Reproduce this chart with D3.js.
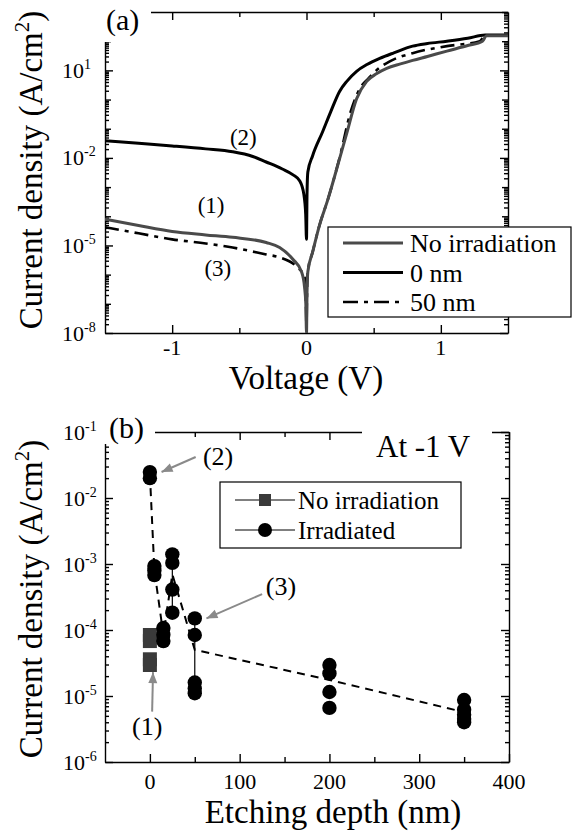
<!DOCTYPE html>
<html><head><meta charset="utf-8">
<script src="https://cdn.jsdelivr.net/npm/d3@7"></script>
<style>
body{margin:0;background:#fff}
svg{display:block}
svg text{font-family:"Liberation Serif","Times New Roman",Times,serif;fill:#000}
</style>
</head><body>
<svg id="c" width="572" height="834" font-family="Liberation Serif"></svg>
<script>
// ---------------- Panel (a) data : J-V curves ----------------
const vNoIrr = [-1.5,-1.25,-1.0,-0.75,-0.55,-0.3,-0.2,-0.1,-0.037,-0.015,-0.005,0,0.004,0.01,0.045,0.097,0.157,0.246,0.3,0.373,0.448,0.52,0.597,0.7,0.79,0.9,1.045,1.2,1.31,1.34,1.5];
const jNoIrr = [7.9e-5,4.8e-5,3.0e-5,2.3e-5,1.9e-5,1.26e-5,8.5e-6,3.3e-6,1.26e-6,3.9e-7,1e-7,1e-8,2.5e-7,1.26e-6,5.8e-6,5.0e-5,3.5e-4,9.3e-3,0.071,1.07,4.2,7.6,11.7,16.6,21.9,30,45.7,70.8,100,155,155];

const v0nm = [-1.5,-1.25,-1.0,-0.75,-0.55,-0.4,-0.3,-0.18,-0.1,-0.05,-0.02,-0.006,0,0.004,0.01,0.045,0.12,0.18,0.246,0.3,0.373,0.45,0.545,0.65,0.79,0.9,1.045,1.2,1.33,1.5];
const j0nm = [0.0389,0.0316,0.0257,0.0204,0.0162,0.0112,0.00724,0.00417,0.00263,0.00162,5.75e-4,1.17e-4,1.62e-5,6.3e-4,3.3e-3,0.0117,0.079,0.38,1.9,4.2,9.3,15.8,25.7,39.8,67.6,83,100,126,162,162];

const v50nm = [-1.5,-1.25,-1.0,-0.75,-0.55,-0.3,-0.2,-0.075,-0.015,-0.005,0,0.004,0.01,0.045,0.097,0.157,0.246,0.33,0.4,0.46,0.52,0.62,0.79,1.045,1.29,1.33,1.5];
const j50nm = [4.2e-5,2.6e-5,1.62e-5,1.17e-5,8.5e-6,4.9e-6,3.9e-6,1.9e-6,8.5e-7,1.26e-7,1.6e-8,2.5e-7,1.26e-6,5.8e-6,5.0e-5,3.5e-4,0.01,0.4,2.5,5.2,10,20.4,38.9,67.6,100,155,155];

const seriesNamesA = ["No irradiation","0 nm","50 nm"];
const xTicksA = [-1,0,1];
const xMinorA = [-0.5,0.5];
const yLabelTicksA = [-8,-5,-2,1];      // exponents of labelled decades
const annotA = [ {t:"(2)", v:-0.47, j:0.028}, {t:"(1)", v:-0.71, j:1.26e-4}, {t:"(3)", v:-0.66, j:9.3e-7} ];

// ---------------- Panel (b) data : J at -1 V vs etching depth ----------------
const depthNoIrr = [0,0,0,0];
const jAtm1NoIrr = [8.4e-5,6.8e-5,3.6e-5,2.95e-5];
const depthIrr = [0,0, 5,5,5, 15,15,15, 25,25,25,25, 50,50,50,50,50, 200,200,200,200, 350,350,350,350,350];
const jAtm1Irr = [0.0247,0.020, 9.3e-4,8.0e-4,6.8e-4, 1.07e-4,8.5e-5,6.8e-5, 1.4e-3,1.04e-3,4.1e-4,1.83e-4, 1.5e-4,8.4e-5,1.6e-5,1.3e-5,1.1e-5, 2.95e-5,2.2e-5,1.15e-5,6.6e-6, 8.7e-6,6.2e-6,5.2e-6,4.5e-6,4.0e-6];
const trendDepth = [0,5,15,25,50,200,350];
const trendJ = [0.023,8e-4,8.5e-5,7e-4,5e-5,1.75e-5,5.7e-6];
const rangeDepth = [25,50];
const rangeLow = [1.83e-4,1.1e-5];
const rangeHigh = [1.4e-3,1.5e-4];
const seriesNamesB = ["No irradiation","Irradiated"];
const xTicksB = [0,100,200,300,400];
const xMinorB = [50,150,250,350];
const yLabelTicksB = [-6,-5,-4,-3,-2,-1];
const annotB = [
  {t:"(2)", tx:76, tj:0.0316, x1:51, j1:0.0418, x2:13, j2:0.0248},
  {t:"(3)", tx:146, tj:3.4e-4, x1:125, j1:3.5e-4, x2:63, j2:1.5e-4},
  {t:"(1)", tx:-3, tj:2.6e-6, x1:2.5, j1:5.8e-6, x2:3.5, j2:2.3e-5}
];

// ---------------- drawing ----------------
const svg = d3.select("#c");
const FONT_AXIS = 33, FONT_TICK = 22;

function decades(lo, hi){ const a=[]; for(let e=lo;e<=hi;e++) a.push(Math.pow(10,e)); return a; }
function minors(lo, hi){ const a=[]; for(let e=lo;e<hi;e++) for(let m=2;m<=9;m++) a.push(m*Math.pow(10,e)); return a; }

function drawFrame(g, x, y, cfg){
  const [L,R] = x.range(), [B,T] = y.range();
  const styleAx = sel => { sel.attr("font-family",null); sel.selectAll("path,line").attr("stroke","#000").attr("stroke-width",1.4); sel.selectAll("text").remove(); };
  const major = cfg.labelDec.map(e=>Math.pow(10,e));
  const dec = decades(cfg.eLo, cfg.eHi).filter(v=>!major.some(m=>Math.abs(Math.log10(m)-Math.log10(v))<1e-6));
  const yAx = [[major,8],[dec,6],[minors(cfg.eLo,cfg.eHi),4]];
  yAx.forEach(([vals,len],i)=>{
    g.append("g").attr("transform",`translate(${L},0)`).call(d3.axisLeft(y).tickValues(vals).tickSizeInner(-len).tickSizeOuter(0)).call(styleAx).call(s=>{ if(i) s.select("path").remove(); });
    g.append("g").attr("transform",`translate(${R},0)`).call(d3.axisRight(y).tickValues(vals).tickSizeInner(-len).tickSizeOuter(0)).call(styleAx).call(s=>{ if(i) s.select("path").remove(); });
  });
  [[cfg.xMajor,8],[cfg.xMinor,5]].forEach(([vals,len],i)=>{
    g.append("g").attr("transform",`translate(0,${B})`).call(d3.axisBottom(x).tickValues(vals).tickSizeInner(-len).tickSizeOuter(0)).call(styleAx).call(s=>{ if(i) s.select("path").remove(); });
    g.append("g").attr("transform",`translate(0,${T})`).call(d3.axisTop(x).tickValues(vals).tickSizeInner(-len).tickSizeOuter(0)).call(styleAx).call(s=>{ if(i) s.select("path").remove(); });
  });
}
function yTickLabels(g, y, exps, xPos){
  exps.forEach(e=>{
    const t = g.append("text").attr("x",xPos).attr("y",y(Math.pow(10,e))+7.5).attr("font-size",FONT_TICK);
    t.append("tspan").text("10");
    t.append("tspan").attr("dy",-9).attr("font-size",14).text(String(e));
  });
}
function xTickLabels(g, x, vals, yPos){
  vals.forEach(v=>{
    g.append("text").attr("x",x(v)).attr("y",yPos).attr("text-anchor","middle").attr("font-size",FONT_TICK).text(String(v));
  });
}
function yTitle(g, cy){
  const t = g.append("text").attr("transform",`translate(42,${cy}) rotate(-90)`).attr("text-anchor","middle").attr("font-size",FONT_AXIS);
  t.append("tspan").text("Current density (A/cm");
  t.append("tspan").attr("dy",-13).attr("font-size",21).text("2");
  t.append("tspan").attr("dy",13).text(")");
}
function arrow(g, x1,y1,x2,y2, col){
  g.append("line").attr("x1",x1).attr("y1",y1).attr("x2",x2).attr("y2",y2).attr("stroke",col).attr("stroke-width",2);
  const ang = Math.atan2(y2-y1,x2-x1), L=11, W=4.5;
  const bx = x2-L*Math.cos(ang), by = y2-L*Math.sin(ang);
  const px = -Math.sin(ang)*W, py = Math.cos(ang)*W;
  g.append("path").attr("d",`M${x2},${y2}L${bx+px},${by+py}L${bx-px},${by-py}Z`).attr("fill",col);
}

// ===== Panel (a) =====
const gA = svg.append("g");
const xA = d3.scaleLinear().domain([-1.5,1.5]).range([105,508]);
const yA = d3.scaleLog().domain([1e-8,1e3]).range([333,12]);
drawFrame(gA, xA, yA, {eLo:-8,eHi:3,labelDec:yLabelTicksA,xMajor:xTicksA,xMinor:xMinorA});
svg.append("clipPath").attr("id","clipA").append("rect").attr("x",105).attr("y",12).attr("width",403).attr("height",321);
const lineA = d3.line().x(d=>xA(d[0])).y(d=>yA(d[1])).curve(d3.curveMonotoneX);
const curves = gA.append("g").attr("clip-path","url(#clipA)");
const GRAY = "#4a4a4a";
curves.append("path").attr("d",lineA(d3.zip(v50nm,j50nm))).attr("fill","none").attr("stroke","#000").attr("stroke-width",2.6).attr("stroke-dasharray","14,6,4,6");
curves.append("path").attr("d",lineA(d3.zip(v0nm,j0nm))).attr("fill","none").attr("stroke","#000").attr("stroke-width",3);
curves.append("path").attr("d",lineA(d3.zip(vNoIrr,jNoIrr))).attr("fill","none").attr("stroke",GRAY).attr("stroke-width",3);
annotA.forEach(a=>gA.append("text").attr("x",xA(a.v)).attr("y",yA(a.j)).attr("text-anchor","middle").attr("font-size",23).text(a.t));
// legend (a)
const legA = gA.append("g");
legA.append("rect").attr("x",328).attr("y",227).attr("width",243).attr("height",90).attr("fill","#fff").attr("stroke","#000").attr("stroke-width",1.2);
const legStylesA = [{c:GRAY,w:3,d:null},{c:"#000",w:3,d:null},{c:"#000",w:2.6,d:"15,6,4,6"}];
seriesNamesA.forEach((n,i)=>{
  const yy = 243 + i*29.5;
  const l = legA.append("line").attr("x1",343).attr("x2",403).attr("y1",yy).attr("y2",yy).attr("stroke",legStylesA[i].c).attr("stroke-width",legStylesA[i].w);
  if(legStylesA[i].d) l.attr("stroke-dasharray",legStylesA[i].d);
  legA.append("text").attr("x",410).attr("y",yy+9).attr("font-size",26).text(n);
});
// panel label box
gA.append("rect").attr("x",90).attr("y",0).attr("width",61).attr("height",42).attr("fill","#fff");
gA.append("text").attr("x",106).attr("y",30).attr("font-size",30).text("(a)");
yTickLabels(gA, yA, yLabelTicksA, 62);
xTickLabels(gA, xA, xTicksA, 355);
gA.append("text").attr("x",306).attr("y",389).attr("text-anchor","middle").attr("font-size",FONT_AXIS).text("Voltage (V)");
yTitle(gA, 170);

// ===== Panel (b) =====
const gB = svg.append("g");
const xB = d3.scaleLinear().domain([-50,400]).range([105,509]);
const yB = d3.scaleLog().domain([1e-6,1e-1]).range([762,432]);
drawFrame(gB, xB, yB, {eLo:-6,eHi:-1,labelDec:yLabelTicksB,xMajor:xTicksB,xMinor:xMinorB});
const lineB = d3.line().x(d=>xB(d[0])).y(d=>yB(d[1]));
gB.append("path").attr("d",lineB(d3.zip(trendDepth,trendJ))).attr("fill","none").attr("stroke","#000").attr("stroke-width",2).attr("stroke-dasharray","8,6");
rangeDepth.forEach((d,i)=>gB.append("line").attr("x1",xB(d)).attr("x2",xB(d)).attr("y1",yB(rangeLow[i])).attr("y2",yB(rangeHigh[i])).attr("stroke","#000").attr("stroke-width",1.2));
const SQ = "#3a3a3a";
gB.selectAll("rect.sq").data(d3.zip(depthNoIrr,jAtm1NoIrr)).join("rect").attr("class","sq")
  .attr("x",d=>xB(d[0])-7).attr("y",d=>yB(d[1])-7).attr("width",14).attr("height",14).attr("fill",SQ);
gB.selectAll("circle.irr").data(d3.zip(depthIrr,jAtm1Irr)).join("circle").attr("class","irr")
  .attr("cx",d=>xB(d[0])).attr("cy",d=>yB(d[1])).attr("r",7.2).attr("fill","#000");
// legend (b)
const legB = gB.append("g");
legB.append("rect").attr("x",220).attr("y",482).attr("width",241).attr("height",66).attr("fill","#fff").attr("stroke","#000").attr("stroke-width",1.2);
seriesNamesB.forEach((n,i)=>{
  const yy = 500 + i*30;
  legB.append("line").attr("x1",235).attr("x2",295).attr("y1",yy).attr("y2",yy).attr("stroke","#000").attr("stroke-width",1);
  if(i===0) legB.append("rect").attr("x",259).attr("y",yy-6).attr("width",12).attr("height",12).attr("fill",SQ);
  else legB.append("circle").attr("cx",265).attr("cy",yy).attr("r",7).attr("fill","#000");
  legB.append("text").attr("x",298).attr("y",yy+9).attr("font-size",25).text(n);
});
// boxes over frame
gB.append("rect").attr("x",104).attr("y",405).attr("width",51).attr("height",39).attr("fill","#fff");
gB.append("text").attr("x",109).attr("y",438).attr("font-size",30).text("(b)");
gB.append("rect").attr("x",362).attr("y",420).attr("width",130).attr("height",30).attr("fill","#fff");
gB.append("text").attr("x",376).attr("y",457).attr("font-size",31).text("At -1 V");
// annotations
const ARR = "#8a8a8a";
annotB.forEach(a=>{
  gB.append("text").attr("x",xB(a.tx)).attr("y",yB(a.tj)).attr("text-anchor","middle").attr("font-size",26).text(a.t);
  arrow(gB, xB(a.x1),yB(a.j1),xB(a.x2),yB(a.j2),ARR);
});
yTickLabels(gB, yB, yLabelTicksB, 63);
xTickLabels(gB, xB, xTicksB, 789);
gB.append("text").attr("x",333).attr("y",823).attr("text-anchor","middle").attr("font-size",FONT_AXIS).text("Etching depth (nm)");
yTitle(gB, 599);
</script>
</body></html>
